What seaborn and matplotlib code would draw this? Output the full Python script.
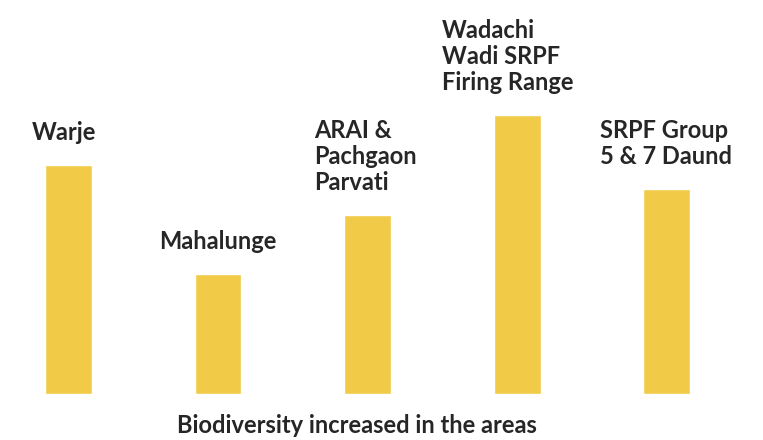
import matplotlib
matplotlib.use("Agg")
import matplotlib.pyplot as plt
import seaborn as sns

areas = ["Warje", "Mahalunge", "ARAI & Pachgaon Parvati",
         "Wadachi Wadi SRPF Firing Range", "SRPF Group 5 & 7 Daund"]
labels = ["Warje", "Mahalunge", "ARAI &\nPachgaon\nParvati",
          "Wadachi\nWadi SRPF\nFiring Range", "SRPF Group\n5 & 7 Daund"]
values = [229, 120, 179, 279, 205]
caption = "Biodiversity increased in the areas"

sns.set_theme(style="white")
plt.rcParams["font.family"] = ["Lato", "DejaVu Sans"]

BAR = "#F1CB48"
TXT = "#262626"

fig = plt.figure(figsize=(7.63, 4.40), dpi=100)
ax = fig.add_axes([0, 46 / 440, 1, 1 - 46 / 440])
sns.barplot(x=areas, y=values, color=BAR, saturation=1, width=0.314, ax=ax)
ax.set_xlim(-0.458, 4.645)
ax.set_ylim(0, 394)
ax.axis("off")

x_shift = [-4, 0, -2, -9, -1]
for i, (lab, v) in enumerate(zip(labels, values)):
    ax.annotate(lab, xy=(i, v), xytext=(x_shift[i] * 0.72, 18),
                textcoords="offset points", ha="center", va="baseline",
                multialignment="left", fontsize=17, fontweight="bold",
                color=TXT, linespacing=1.15)

fig.text(356.5 / 763, 1 - 433 / 440, caption, ha="center", va="baseline",
         fontsize=17, fontweight="bold", color=TXT)

fig.savefig("out.png", dpi=100, facecolor="white")
